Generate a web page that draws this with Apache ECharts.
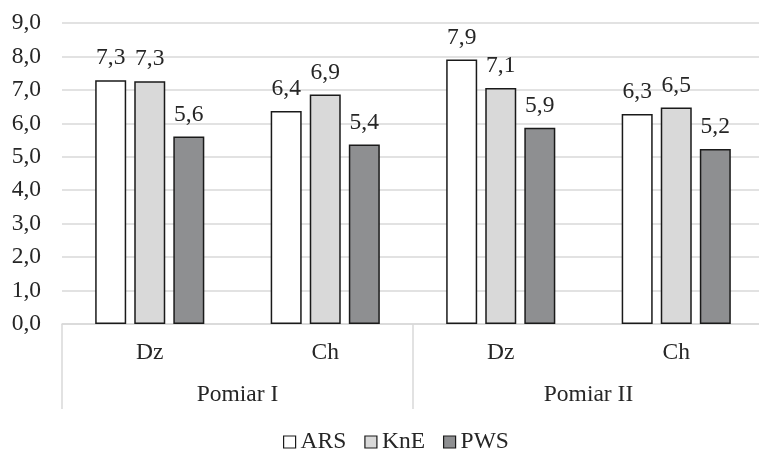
<!DOCTYPE html>
<html>
<head>
<meta charset="utf-8">
<script src="https://cdn.jsdelivr.net/npm/echarts@6/dist/echarts.min.js"></script>
<style>
html,body{margin:0;padding:0;background:#fff;overflow:hidden;width:759px;height:449px;}
#chart{width:765px;height:449px;}
</style>
</head>
<body>
<div id="chart"></div>
<script>
const categories = ['Dz', 'Ch', 'Dz', 'Ch'];
const groups = ['Pomiar I', 'Pomiar II'];
const seriesNames = ['ARS', 'KnE', 'PWS'];
const ARS = [7.29, 6.37, 7.91, 6.28];
const KnE = [7.26, 6.86, 7.06, 6.47];
const PWS = [5.61, 5.37, 5.87, 5.23];
const colors = ['#ffffff', '#d9d9d9', '#8e8f91'];

const fmt = v => v.toFixed(1).replace('.', ',');
const font = '"Liberation Serif", "Times New Roman", serif';
const fs = 23.5;

const chart = echarts.init(document.getElementById('chart'), null, {renderer: 'canvas'});
const mk = (name, data, i) => ({
  name: name,
  type: 'bar',
  xAxisIndex: 0,
  data: data,
  barWidth: 31,
  barGap: '26%',
  itemStyle: {color: colors[i], borderColor: '#1a1a1a', borderWidth: 1.5},
  label: {
    show: true, position: 'top', distance: 10,
    formatter: p => fmt(p.value),
    fontFamily: font, fontSize: fs, color: '#262626'
  }
});
chart.setOption({
  animation: false,
  textStyle: {fontFamily: font},
  grid: {left: 62, right: 1, top: 23, bottom: 125},
  legend: {
    data: seriesNames,
    top: 430,
    left: 283,
    padding: 0,
    itemWidth: 12, itemHeight: 12, itemGap: 18,
    icon: 'rect',
    itemStyle: {borderColor: '#1a1a1a', borderWidth: 1.2},
    textStyle: {fontFamily: font, fontSize: fs, color: '#262626'}
  },
  xAxis: [{
    type: 'category',
    data: categories,
    axisLine: {show: true, lineStyle: {color: '#d9d9d9', width: 1.5}},
    axisTick: {show: false},
    axisLabel: {margin: 17, fontFamily: font, fontSize: fs, color: '#262626'}
  }, {
    type: 'category',
    data: groups,
    position: 'bottom',
    axisLine: {show: false},
    axisTick: {show: true, length: 85, interval: 0, lineStyle: {color: '#d9d9d9', width: 1.5}},
    axisLabel: {margin: 59, fontFamily: font, fontSize: fs, color: '#262626'}
  }],
  yAxis: {
    type: 'value',
    min: 0, max: 9, interval: 1,
    axisLine: {show: false},
    axisTick: {show: false},
    splitLine: {lineStyle: {color: '#d9d9d9', width: 1.5}},
    axisLabel: {margin: 21, formatter: v => fmt(v), fontFamily: font, fontSize: fs, color: '#262626'}
  },
  series: [mk('ARS', ARS, 0), mk('KnE', KnE, 1), mk('PWS', PWS, 2)]
});
</script>
</body>
</html>
